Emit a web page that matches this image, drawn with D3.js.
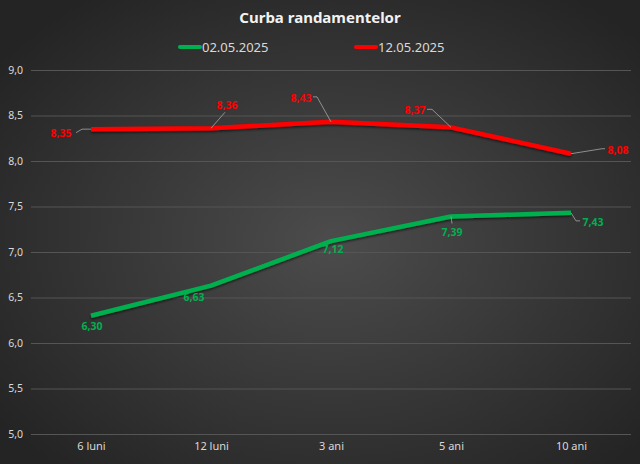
<!DOCTYPE html>
<html>
<head>
<meta charset="utf-8">
<script src="https://cdn.jsdelivr.net/npm/d3@7"></script>
<style>
  html, body { margin: 0; padding: 0; background: #2b2b2b; }
  svg { display: block; font-family: "Noto Sans", "Open Sans", sans-serif; }
</style>
</head>
<body>
<div id="chart"></div>
<script>
// data
const categories = ['6 luni', '12 luni', '3 ani', '5 ani', '10 ani']
const seriesNames = ['02.05.2025', '12.05.2025']
const values0205 = [6.30, 6.63, 7.12, 7.39, 7.43]
const values1205 = [8.35, 8.36, 8.43, 8.37, 8.08]
const yTicks = [5.0, 5.5, 6.0, 6.5, 7.0, 7.5, 8.0, 8.5, 9.0]

const width = 640
const height = 464
const colors = ['#00b050', '#ff0000']
const fmt = v => d3.format('.2f')(v).replace('.', ',')
const fmtTick = v => d3.format('.1f')(v).replace('.', ',')

// label placement, relative to the point (label centre + leader knees)
const greenLabels = [
  { dx: 1, dy: 11 }, { dx: -17, dy: 12 }, { dx: 2, dy: 8 },
  { dx: 1, dy: 16, leader: [[1, 7]] },
  { dx: 22, dy: 9, leader: [[5, 8], [9, 8]] }
]
const redLabels = [
  { dx: -30, dy: 4, leader: [[-9, 0], [-15, 3.5]] },
  { dx: 16, dy: -23, leader: [[14, -16]] },
  { dx: -30, dy: -24, leader: [[-14, -25], [-18, -25]] },
  { dx: -36, dy: -17, leader: [[-19, -18], [-24, -18]] },
  { dx: 47, dy: -4, leader: [[31, -5], [34, -5]] }
]

const svg = d3.select('#chart').append('svg')
  .attr('width', width)
  .attr('height', height)

const defs = svg.append('defs')
const grad = defs.append('radialGradient')
  .attr('id', 'bg')
  .attr('cx', '52%').attr('cy', '52%').attr('r', '65%')
grad.append('stop').attr('offset', '0%').attr('stop-color', '#4c4c4c')
grad.append('stop').attr('offset', '100%').attr('stop-color', '#242424')

const shadow = defs.append('filter').attr('id', 'shadow')
  .attr('x', '-10%').attr('y', '-10%').attr('width', '120%').attr('height', '140%')
shadow.append('feDropShadow')
  .attr('dx', 0).attr('dy', 1.5).attr('stdDeviation', 1.2)
  .attr('flood-color', '#000').attr('flood-opacity', 0.6)

svg.append('rect')
  .attr('width', width).attr('height', height)
  .attr('fill', 'url(#bg)')

// title
svg.append('text')
  .text('Curba randamentelor')
  .attr('x', 320).attr('y', 23)
  .attr('text-anchor', 'middle')
  .attr('fill', '#f2f2f2')
  .attr('font-size', 15)
  .attr('font-weight', 'bold')

// legend
const legend = svg.append('g').attr('transform', 'translate(180, 47)')
legend.selectAll('g')
  .data(seriesNames)
  .enter()
  .append('g')
  .attr('transform', (d, i) => `translate(${i * 176}, 0)`)
  .each(function (d, i) {
    const g = d3.select(this)
    g.append('line')
      .attr('x1', 0).attr('x2', 20)
      .attr('stroke', colors[i]).attr('stroke-width', 4)
      .attr('stroke-linecap', 'round')
    g.append('text')
      .text(d)
      .attr('x', 22).attr('dy', '0.36em')
      .attr('fill', '#d9d9d9')
      .attr('font-size', 13)
  })

// scales
const xScale = d3.scalePoint()
  .domain(categories)
  .range([31, 631])
  .padding(0.5)

const yScale = d3.scaleLinear()
  .domain([5, 9])
  .range([434, 70])

// grid + y labels
const yAxis = d3.axisLeft(yScale)
  .tickValues(yTicks)
  .tickSize(-600)
  .tickPadding(8)
  .tickFormat(fmtTick)

const yG = svg.append('g')
  .attr('transform', 'translate(31, 0)')
  .call(yAxis)
yG.select('.domain').remove()
yG.selectAll('.tick line').attr('stroke', '#555').attr('stroke-width', 1)
yG.selectAll('.tick text')
  .attr('fill', '#d9d9d9')
  .attr('font-size', 10.5)
  .attr('font-family', '"Noto Sans", sans-serif')

// x labels
const xAxis = d3.axisBottom(xScale).tickSize(0).tickPadding(8)
const xG = svg.append('g')
  .attr('transform', 'translate(0, 434)')
  .call(xAxis)
xG.select('.domain').remove()
xG.selectAll('.tick text')
  .attr('fill', '#d9d9d9')
  .attr('font-size', 11)
  .attr('font-family', '"Noto Sans", sans-serif')

// lines
const line = d3.line()
  .x((d, i) => xScale(categories[i]))
  .y(d => yScale(d))

const series = [values0205, values1205]
const labelSets = [greenLabels, redLabels]

svg.append('g')
  .selectAll('path')
  .data(series)
  .enter()
  .append('path')
  .attr('d', line)
  .attr('fill', 'none')
  .attr('stroke', (d, i) => colors[i])
  .attr('stroke-width', 4.5)
  .attr('stroke-linejoin', 'round')
  .attr('filter', 'url(#shadow)')

// data labels with leader lines
series.forEach((vals, s) => {
  const g = svg.append('g')
  vals.forEach((v, i) => {
    const px = xScale(categories[i])
    const py = yScale(v)
    const cfg = labelSets[s][i]
    if (cfg.leader) {
      const pts = [[px, py]].concat(cfg.leader.map(p => [px + p[0], py + p[1]]))
      g.append('path')
        .attr('d', d3.line()(pts))
        .attr('fill', 'none')
        .attr('stroke', '#a6a6a6')
        .attr('stroke-width', 0.8)
    }
    g.append('text')
      .text(fmt(v))
      .attr('x', px + cfg.dx)
      .attr('y', py + cfg.dy)
      .attr('dy', '0.36em')
      .attr('text-anchor', 'middle')
      .attr('fill', colors[s])
      .attr('font-size', 10.5)
      .attr('font-weight', 'bold')
  })
})
</script>
</body>
</html>
